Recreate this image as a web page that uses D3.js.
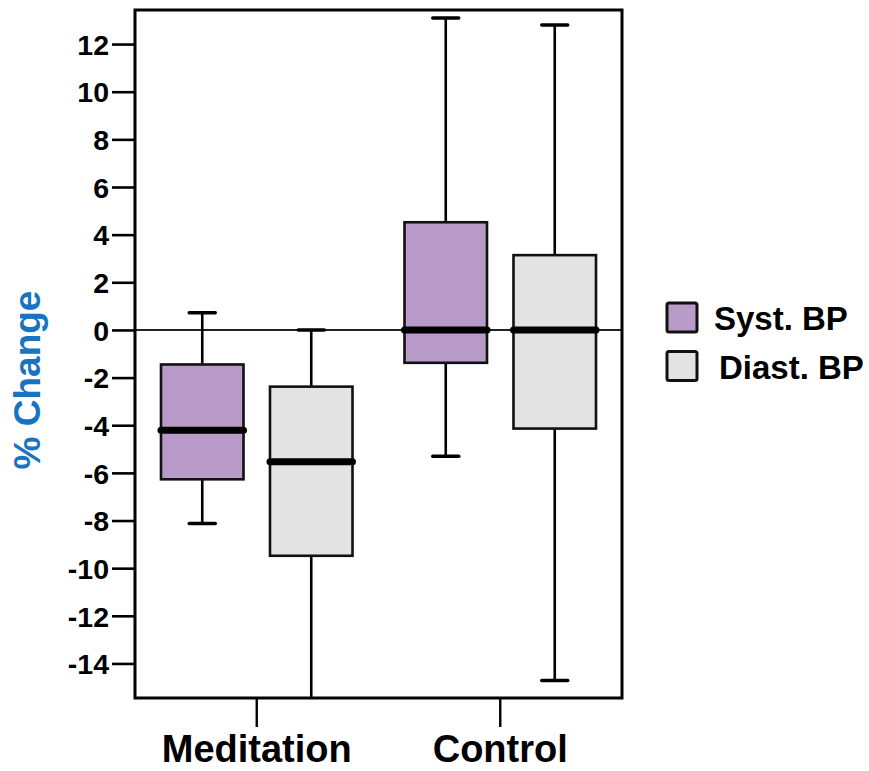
<!DOCTYPE html>
<html>
<head>
<meta charset="utf-8">
<script src="https://cdn.jsdelivr.net/npm/d3@7"></script>
<style>
  html, body { margin: 0; padding: 0; background: #fff; }
  svg { display: block; font-family: "Liberation Sans", Arial, sans-serif; font-weight: bold; }
</style>
</head>
<body>
<svg id="chart" width="869" height="771"></svg>
<script>
// Groups and the two blood-pressure series
const categories = ["Meditation", "Control"];
const series = ["Syst. BP", "Diast. BP"];
const seriesColors = ["#b89bc8", "#e3e3e3"];

// Box-plot statistics (% change), one value per category
const systMin    = [-8.13, -5.3];
const systQ1     = [-6.27, -1.38];
const systMedian = [-4.21, 0];
const systQ3     = [-1.45, 4.52];
const systMax    = [0.72, 13.09];

const diastMin    = [-15.6, -14.72];
const diastQ1     = [-9.48, -4.14];
const diastMedian = [-5.53, 0];
const diastQ3     = [-2.38, 3.14];
const diastMax    = [0, 12.8];

const yTicks = [-14, -12, -10, -8, -6, -4, -2, 0, 2, 4, 6, 8, 10, 12];
const yLabel = "% Change";

// Build one record per box
const boxes = [];
categories.forEach((c, i) => {
  boxes.push({ cat: c, ser: series[0], color: seriesColors[0],
    min: systMin[i], q1: systQ1[i], med: systMedian[i], q3: systQ3[i], max: systMax[i] });
  boxes.push({ cat: c, ser: series[1], color: seriesColors[1],
    min: diastMin[i], q1: diastQ1[i], med: diastMedian[i], q3: diastQ3[i], max: diastMax[i] });
});

const svg = d3.select("#chart");
const plot = { left: 135, right: 622, top: 10, bottom: 698 };

const y = d3.scaleLinear().domain([-15.45, 13.43]).range([plot.bottom, plot.top]);
const x = d3.scaleBand().domain(categories).range([plot.left, plot.right]);
const xSub = d3.scaleBand().domain(series).range([0, x.bandwidth()])
  .paddingInner(0.243).paddingOuter(0.2385);
const capW = 29;

svg.append("defs").append("clipPath").attr("id", "plotClip")
  .append("rect")
  .attr("x", plot.left).attr("y", plot.top)
  .attr("width", plot.right - plot.left).attr("height", plot.bottom - plot.top);

const g = svg.append("g").attr("clip-path", "url(#plotClip)");

// Zero reference line
g.append("line")
  .attr("x1", plot.left).attr("x2", plot.right)
  .attr("y1", y(0)).attr("y2", y(0))
  .attr("stroke", "#222").attr("stroke-width", 2);

const bx = g.selectAll("g.box").data(boxes).join("g")
  .attr("class", "box")
  .attr("transform", d => `translate(${x(d.cat) + xSub(d.ser)},0)`);

const bw = xSub.bandwidth();

// Whiskers
bx.append("line")
  .attr("x1", bw / 2).attr("x2", bw / 2)
  .attr("y1", d => y(d.max)).attr("y2", d => y(d.min))
  .attr("stroke", "#000").attr("stroke-width", 2.6);

// Whisker caps
bx.selectAll("line.cap").data(d => [d.min, d.max]).join("line")
  .attr("class", "cap")
  .attr("x1", bw / 2 - capW / 2 + 1.5).attr("x2", bw / 2 + capW / 2 - 1.5)
  .attr("y1", v => y(v)).attr("y2", v => y(v))
  .attr("stroke", "#000").attr("stroke-width", 3.5).attr("stroke-linecap", "round");

// Boxes
bx.append("rect")
  .attr("x", 0).attr("width", bw)
  .attr("y", d => y(d.q3)).attr("height", d => y(d.q1) - y(d.q3))
  .attr("fill", d => d.color)
  .attr("stroke", "#111").attr("stroke-width", 2.6);

// Medians
bx.append("line")
  .attr("x1", 0).attr("x2", bw)
  .attr("y1", d => y(d.med)).attr("y2", d => y(d.med))
  .attr("stroke", "#000").attr("stroke-width", 7).attr("stroke-linecap", "round");

// Frame
svg.append("rect")
  .attr("x", plot.left).attr("y", plot.top)
  .attr("width", plot.right - plot.left).attr("height", plot.bottom - plot.top)
  .attr("fill", "none").attr("stroke", "#000").attr("stroke-width", 3);

// Y axis
const yAxis = svg.append("g")
  .attr("transform", `translate(${plot.left},0)`)
  .call(d3.axisLeft(y).tickValues(yTicks).tickSize(23).tickPadding(3).tickFormat(d => String(d)));
yAxis.select(".domain").remove();
yAxis.selectAll(".tick line").attr("stroke", "#000").attr("stroke-width", 2.6);
yAxis.selectAll(".tick text")
  .attr("fill", "#000").attr("font-size", 28.5).attr("font-weight", "bold")
  .attr("font-family", "Liberation Sans, Arial, sans-serif").attr("dy", "0.36em");

// X axis
const xAxis = svg.append("g")
  .attr("transform", `translate(0,${plot.bottom})`)
  .call(d3.axisBottom(x).tickSize(29).tickPadding(8));
xAxis.select(".domain").remove();
xAxis.selectAll(".tick line").attr("stroke", "#000").attr("stroke-width", 2.4);
xAxis.selectAll(".tick text")
  .attr("fill", "#000").attr("font-size", 38).attr("font-weight", "bold")
  .attr("font-family", "Liberation Sans, Arial, sans-serif");

// Y axis title
svg.append("text")
  .attr("transform", `translate(40,${(plot.top + plot.bottom) / 2 + 26}) rotate(-90)`)
  .attr("text-anchor", "middle")
  .attr("fill", "#1874c1").attr("font-size", 37)
  .text(yLabel);

// Legend
const legend = svg.append("g");
const legendRows = series.map((s, i) => ({ s, c: seriesColors[i], i }));
const lg = legend.selectAll("g").data(legendRows).join("g")
  .attr("transform", d => `translate(667,${303 + d.i * 48.5})`);
lg.append("rect")
  .attr("width", 30).attr("height", 29).attr("rx", 2)
  .attr("fill", d => d.c).attr("stroke", "#111").attr("stroke-width", 3);
lg.append("text")
  .attr("x", d => d.i === 0 ? 47 : 52).attr("y", 27)
  .attr("font-size", 33).attr("fill", "#000")
  .text(d => d.s);
</script>
</body>
</html>
